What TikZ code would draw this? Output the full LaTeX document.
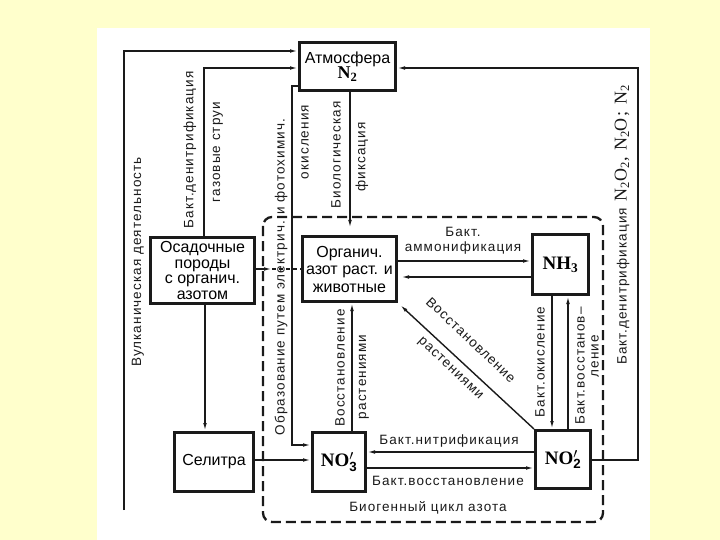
\documentclass[tikz,border=0pt]{standalone}
\usepackage{fontspec}
\setmainfont{Liberation Sans}
\newfontfamily\srf{Liberation Serif}
\newfontfamily\lbl{Liberation Sans}[LetterSpace=8]
\newfontfamily\srfsp{Liberation Serif}[LetterSpace=10]
\usetikzlibrary{arrows.meta}
\definecolor{bgy}{HTML}{FFFFCC}
\definecolor{ink}{HTML}{1A1A1A}
\begin{document}
\begin{tikzpicture}[x=1pt,y=-1pt,
  box/.style={draw=ink,line width=3pt,fill=white,align=center,inner sep=1pt,font=\fontsize{16}{16}\selectfont},
  conn/.style={draw=ink,line width=1.4pt,-{Latex[length=8pt,width=3.6pt]}},
  lab/.style={font=\lbl\fontsize{13.5}{15}\selectfont,inner sep=0pt,text=ink},
  vlab/.style={lab,rotate=90},
  dlab/.style={lab,rotate=-43.4},
  cyc/.style={draw=ink,line width=2.3pt,dash pattern=on 10pt off 5pt,rounded corners=9pt}]
\fill[bgy] (0,0) rectangle (720,540);
\fill[white] (97,28) rectangle (650,540);
\useasboundingbox (0,0) rectangle (720,540);

% biogenic cycle region
\draw[cyc] (263,217) rectangle (603,522);
\node[lab] (cyclab) at (428,508) {Биогенный цикл азота};

% boxes
\node[box,minimum width=96pt,minimum height=48pt] (atm) at (347.5,66.5)
  {Атмосфера\\[-1pt]{\srf\bfseries\fontsize{18}{18}\selectfont N\textsubscript{2}}};
\node[box,minimum width=104pt,minimum height=66pt,font=\fontsize{16}{15.5}\selectfont] (os) at (202.5,270.5)
  {Осадочные\\породы\\с органич.\\азотом};
\node[box,minimum width=94pt,minimum height=65pt,font=\fontsize{16}{17.5}\selectfont] (org) at (349.5,269)
  {Органич.\\азот раст. и\\животные};
\node[box,minimum width=56pt,minimum height=60pt] (nh3) at (560.5,264.5)
  {{\srf\bfseries\fontsize{19}{19}\selectfont NH\textsubscript{3}}};
\node[box,minimum width=79pt,minimum height=59pt] (sel) at (214,462) {Селитра};
\node[box,minimum width=53pt,minimum height=59pt] (no3) at (339,462)
  {{\srf\bfseries\fontsize{19}{19}\selectfont NO$'_{\mathbf{3}}$}};
\node[box,minimum width=55pt,minimum height=58pt] (no2) at (563,459.5)
  {{\srf\bfseries\fontsize{19}{19}\selectfont NO$'_{\mathbf{2}}$}};

% volcanic activity
\coordinate (vb) at (124,510);
\draw[conn] (vb) |- (atm.west |- 0,51);
\node[vlab] (vlabel) at (138,262) {Вулканическая деятельность};

% bacterial denitrification / gas jets
\draw[conn] (os.north -| 204,0) |- (atm.west |- 0,68);
\node[vlab] (dn1) at (190,150) {Бакт.денитрификация};
\node[vlab] (dn2) at (218,152) {газовые струи};

% sediments -> saltpetre
\draw[conn] (os.south -| 205,0) -- (sel.north -| 205,0);

% sediments -> organic
\coordinate (osm) at (272,269);
\draw[conn] (os.east |- 0,269) -- (osm);
\draw[draw=ink,line width=1.4pt,dash pattern=on 4pt off 3pt] (osm) -- (org.west |- 0,269);

% electric / photochemical oxidation
\coordinate (pa) at (292,86);
\coordinate (pb) at (292,445);
\draw[conn] (atm.west |- 0,86) -- (pa) -- (pb) -- (no3.west |- 0,445);
\node[vlab] (ph1) at (281,277) {Образование путем электрич. и фотохимич.};
\node[vlab] (ph2) at (305,142) {окисления};

% biological fixation
\draw[conn,shorten >=7pt] (atm.south -| 350,0) -- (org.north -| 350,0);
\node[vlab] (bf1) at (336,155) {Биологическая};
\node[vlab] (bf2) at (362,157) {фиксация};

% organic <-> NH3
\draw[conn] (org.east |- 0,261) -- (nh3.west |- 0,261);
\draw[conn,shorten >=3pt] (nh3.west |- 0,277) -- (org.east |- 0,277);
\node[lab,align=center,font=\lbl\fontsize{13.5}{15}\selectfont] (amm) at (463,241) {Бакт.\\аммонификация};

% NO3 -> organic
\draw[conn] (no3.north -| 352,0) -- (org.south -| 352,0);
\node[vlab] (rp1) at (340,368) {Восстановление};
\node[vlab] (rp2) at (364,377) {растениями};

% NO2 -> organic (diagonal)
\draw[conn,shorten >=3pt] (no2.north west) -- (org.south east);
\node[dlab] (dg1) at (471,340) {Восстановление};
\node[dlab] (dg2) at (450,369) {растениями};

% NH3 <-> NO2
\draw[conn] (nh3.south -| 552,0) -- (no2.north -| 552,0);
\draw[conn] (no2.north -| 568,0) -- (nh3.south -| 568,0);
\node[vlab] (ox) at (540,362) {Бакт.окисление};
\node[vlab] (rd1) at (580,366) {Бакт.восстанов–};
\node[vlab] (rd2) at (595,356) {ление};

% NO2 <-> NO3
\draw[conn] (no2.west |- 0,452) -- (no3.east |- 0,452);
\draw[conn] (no3.east |- 0,468) -- (no2.west |- 0,468);
\node[lab] (nit) at (449,441) {Бакт.нитрификация};
\node[lab] (red) at (448,481) {Бакт.восстановление};

% saltpetre -> NO3
\draw[conn] (sel.east |- 0,460) -- (no3.west |- 0,460);

% NO2 -> atmosphere (denitrification)
\coordinate (ra) at (638,460);
\coordinate (rb) at (638,68);
\draw[conn] (no2.east |- 0,460) -- (ra) -- (rb) -- (atm.east |- 0,68);
\node[vlab] (rdn) at (622,225) {Бакт.денитрификация\enspace{\srfsp\fontsize{18}{18}\selectfont N\textsubscript{2}O\textsubscript{2}, N\textsubscript{2}O; N\textsubscript{2}}};
\end{tikzpicture}
\end{document}
